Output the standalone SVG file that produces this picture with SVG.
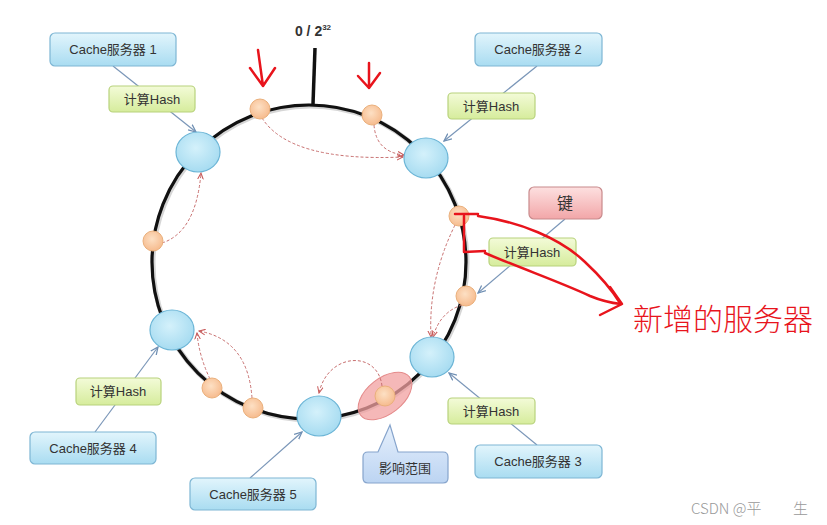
<svg xmlns="http://www.w3.org/2000/svg" width="827" height="525" viewBox="0 0 827 525">
<defs>
<linearGradient id="gBlue" x1="0" y1="0" x2="0" y2="1"><stop offset="0" stop-color="#e2f5fc"/><stop offset="1" stop-color="#a9dcf1"/></linearGradient>
<linearGradient id="gGreen" x1="0" y1="0" x2="0" y2="1"><stop offset="0" stop-color="#f3fbd8"/><stop offset="1" stop-color="#d6ec9c"/></linearGradient>
<linearGradient id="gPink" x1="0" y1="0" x2="0" y2="1"><stop offset="0" stop-color="#fde0e0"/><stop offset="1" stop-color="#f2a6a8"/></linearGradient>
<linearGradient id="gCall" x1="0" y1="0" x2="0" y2="1"><stop offset="0" stop-color="#e6f0fc"/><stop offset="1" stop-color="#bcd4f2"/></linearGradient>
<radialGradient id="gNode" cx="0.45" cy="0.4" r="0.7"><stop offset="0" stop-color="#d4f1fb"/><stop offset="1" stop-color="#9fd8ef"/></radialGradient>
<radialGradient id="gOrange" cx="0.45" cy="0.4" r="0.7"><stop offset="0" stop-color="#fde0c4"/><stop offset="1" stop-color="#f5b585"/></radialGradient>
<marker id="aBlue" viewBox="0 0 10 10" refX="9" refY="5" markerWidth="7" markerHeight="7" orient="auto"><path d="M0,1 L9,5 L0,9" fill="none" stroke="#6f8fb3" stroke-width="1.5"/></marker>
<marker id="aRed" viewBox="0 0 10 10" refX="9" refY="5" markerWidth="7" markerHeight="7" orient="auto"><path d="M0,1 L9,5 L0,9" fill="none" stroke="#c85a5a" stroke-width="1.5"/></marker>
</defs>
<style>
.box{stroke:#7eb6d4;stroke-width:1.2}
.blue{fill:url(#gBlue)}
.green{fill:url(#gGreen);stroke:#b8d27c;stroke-width:1.2}
.node{fill:url(#gNode);stroke:#6cb5d6;stroke-width:1.2}
.orange{fill:url(#gOrange);stroke:#eab07c;stroke-width:1}
.t{font-family:"Liberation Sans","Noto Sans CJK SC",sans-serif;font-size:13px;fill:#333;text-anchor:middle}
.conn{stroke:#7a96b8;stroke-width:1.2;fill:none;marker-end:url(#aBlue)}
.dash{stroke:#c87070;stroke-width:1;stroke-dasharray:3 2;fill:none;marker-end:url(#aRed)}
.red{stroke:#e8141c;stroke-width:2.5;fill:none;stroke-linecap:round;stroke-linejoin:round}
</style>
<rect width="827" height="525" fill="#ffffff"/>

<!-- ring -->
<g id="ring">
<circle cx="310" cy="263" r="157" fill="none" stroke="#999" stroke-width="5" opacity="0.4"/>
<circle cx="309" cy="262" r="157" fill="none" stroke="#111" stroke-width="3.2"/>
<line x1="313" y1="104" x2="315" y2="48" stroke="#111" stroke-width="3.5"/>
<text x="313" y="36" font-family="Liberation Sans,sans-serif" font-size="14" font-weight="bold" fill="#333" text-anchor="middle">0 / 2<tspan font-size="8" dy="-6">32</tspan></text>
</g>

<!-- highlight -->
<g id="range-highlight">
<ellipse cx="385" cy="396" rx="31" ry="18" transform="rotate(-38 385 396)" fill="#f2a0a0" fill-opacity="0.75" stroke="#e48a8a" stroke-width="1"/>
</g>

<!-- connectors -->
<g id="connectors">
<line class="conn" x1="113" y1="66" x2="196" y2="132"/>
<line class="conn" x1="537" y1="66" x2="444" y2="141"/>
<line class="conn" x1="565" y1="219" x2="478" y2="293"/>
<line class="conn" x1="537" y1="445" x2="449" y2="373"/>
<line class="conn" x1="95" y1="432" x2="158" y2="347"/>
<line class="conn" x1="250" y1="478" x2="302" y2="432"/>
<path class="dash" d="M262,118 Q290,162 403,157"/>
<path class="dash" d="M374,125 Q376,152 404,155"/>
<path class="dash" d="M162,243 Q196,232 201,173"/>
<path class="dash" d="M455,225 Q428,280 431,337"/>
<path class="dash" d="M462,305 Q440,312 433,337"/>
<path class="dash" d="M210,379 Q199,356 197,333"/>
<path class="dash" d="M252,398 Q248,340 199,331"/>
<path class="dash" d="M382,386 C378,350 328,352 319,393"/>
</g>

<!-- ring nodes -->
<g id="server-node-1"><ellipse class="node" cx="198" cy="152" rx="22" ry="20"/></g>
<g id="server-node-2"><ellipse class="node" cx="426" cy="158" rx="22" ry="20"/></g>
<g id="server-node-3"><ellipse class="node" cx="432" cy="357" rx="22" ry="20"/></g>
<g id="server-node-4"><ellipse class="node" cx="172" cy="330" rx="22" ry="20"/></g>
<g id="server-node-5"><ellipse class="node" cx="319" cy="416" rx="22" ry="20"/></g>

<g id="key-points">
<circle class="orange" cx="260" cy="109" r="10"/>
<circle class="orange" cx="372" cy="115" r="10"/>
<circle class="orange" cx="459" cy="216" r="10"/>
<circle class="orange" cx="466" cy="296" r="10"/>
<circle class="orange" cx="385" cy="396" r="10"/>
<circle class="orange" cx="253" cy="408" r="10"/>
<circle class="orange" cx="212" cy="388" r="10"/>
<circle class="orange" cx="153" cy="241" r="10"/>
</g>

<!-- boxes -->
<g id="cache1"><rect class="box blue" x="50" y="33" width="126" height="33" rx="5"/><text class="t" x="113" y="54">Cache服务器 1</text></g>
<g id="hash1"><rect class="green" x="109" y="86" width="86" height="26" rx="4"/><text class="t" x="152" y="104">计算Hash</text></g>
<g id="cache2"><rect class="box blue" x="475" y="33" width="127" height="33" rx="5"/><text class="t" x="538" y="54">Cache服务器 2</text></g>
<g id="hash2"><rect class="green" x="448" y="93" width="87" height="26" rx="4"/><text class="t" x="491" y="111">计算Hash</text></g>
<g id="key"><rect x="529" y="187" width="73" height="32" rx="5" fill="url(#gPink)" stroke="#c88a8c" stroke-width="1.2"/><text class="t" x="565" y="209" style="font-size:16px">键</text></g>
<g id="hash3"><rect class="green" x="489" y="238" width="87" height="28" rx="4"/><text class="t" x="532" y="257">计算Hash</text></g>
<g id="hash4"><rect class="green" x="448" y="398" width="87" height="26" rx="4"/><text class="t" x="491" y="416">计算Hash</text></g>
<g id="cache3"><rect class="box blue" x="475" y="445" width="127" height="33" rx="5"/><text class="t" x="538" y="466">Cache服务器 3</text></g>
<g id="hash5"><rect class="green" x="76" y="378" width="85" height="27" rx="4"/><text class="t" x="118" y="396">计算Hash</text></g>
<g id="cache4"><rect class="box blue" x="30" y="432" width="126" height="32" rx="5"/><text class="t" x="93" y="453">Cache服务器 4</text></g>
<g id="cache5"><rect class="box blue" x="190" y="478" width="126" height="32" rx="5"/><text class="t" x="253" y="499">Cache服务器 5</text></g>
<g id="callout">
<path d="M368,452 L378,452 L390,425 L398,452 L443,452 Q448,452 448,457 L448,478 Q448,483 443,483 L368,483 Q363,483 363,478 L363,457 Q363,452 368,452 Z" fill="url(#gCall)" stroke="#86a4cc" stroke-width="1.2"/>
<text class="t" x="405" y="473">影响范围</text>
</g>

<!-- red annotations -->
<g id="annotations">
<path class="red" d="M258,50 L263,86 M250,68 L263,86 L275,68"/>
<path class="red" d="M369,63 L369,88 M358,76 L369,88 L380,73"/>
<path class="red" d="M455,214 L478,214 M464,216 L464,252 L485,251"/>
<path class="red" d="M478,216 C520,222 560,238 585,262 C600,276 612,290 620,303"/>
<path class="red" d="M485,253 C525,270 560,282 590,296 C602,301 612,303 621,304"/>
<path class="red" d="M610,287 L622,304 L600,315"/>
<text x="633" y="330" font-family="Noto Sans CJK SC,sans-serif" font-size="30" fill="#e8141c" font-weight="300">新增的服务器</text>
</g>

<text x="691" y="514" font-family="Noto Sans CJK SC,sans-serif" font-size="15" fill="#999" font-weight="300">CSDN @平<tspan x="793">生</tspan></text>
</svg>
